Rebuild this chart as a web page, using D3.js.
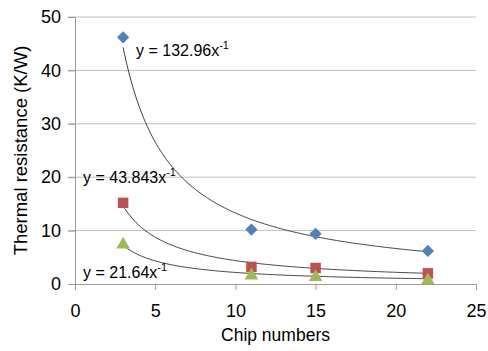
<!DOCTYPE html>
<html>
<head>
<meta charset="utf-8">
<script src="https://cdn.jsdelivr.net/npm/d3@7"></script>
<style>
	body { margin: 0; background: #fff; }
	text { font-family: "Liberation Sans", Arial, sans-serif; fill: #000; }
</style>
</head>
<body>
<svg id="chart" width="488" height="351"></svg>
<script>
// chip counts on the x axis
const chips = [3, 11, 15, 22];

// measured thermal resistance per series (K/W)
const seriesBlue = [46.2, 10.2, 9.4, 6.2];
const seriesRed = [15.2, 3.2, 3.0, 2.0];
const seriesGreen = [7.4, 1.6, 1.3, 0.7];

// power trendline coefficients, y = a * x^-1
const trendCoef = [132.96, 43.843, 21.64];
const trendLabels = ["y = 132.96x", "y = 43.843x", "y = 21.64x"];

const xTicks = [0, 5, 10, 15, 20, 25];
const yTicks = [0, 10, 20, 30, 40, 50];

const svg = d3.select("#chart");
const margin = { left: 75, right: 12, top: 17, bottom: 67 };
const width = +svg.attr("width");
const height = +svg.attr("height");

const x = d3.scaleLinear().domain([0, 25]).range([margin.left, width - margin.right]);
const y = d3.scaleLinear().domain([0, 50]).range([height - margin.bottom, margin.top]);

// Gridlines
svg.append("g")
	.selectAll("line")
	.data(yTicks.slice(1))
	.join("line")
	.attr("x1", x(0) - 7)
	.attr("x2", x(25))
	.attr("y1", (d) => y(d))
	.attr("y2", (d) => y(d))
	.attr("stroke", "#bfbfbf")
	.attr("stroke-width", 1);

// Y axis
const yAxis = svg.append("g")
	.attr("transform", `translate(${x(0)},0)`)
	.call(d3.axisLeft(y).tickValues(yTicks).tickSize(7).tickPadding(7));
yAxis.select(".domain").attr("stroke", "#999");
yAxis.selectAll(".tick line").attr("stroke", "#999");
yAxis.selectAll("text").style("font-size", "18px");

// X axis
const xAxis = svg.append("g")
	.attr("transform", `translate(0,${y(0)})`)
	.call(d3.axisBottom(x).tickValues(xTicks).tickSize(6).tickPadding(14));
xAxis.select(".domain").attr("stroke", "#999");
xAxis.selectAll(".tick line").attr("stroke", "#999");
xAxis.selectAll("text").style("font-size", "18px");

// Axis titles
svg.append("text")
	.attr("x", (x(0) + x(25)) / 2)
	.attr("y", 341)
	.attr("text-anchor", "middle")
	.style("font-size", "17.5px")
	.text("Chip numbers");

svg.append("text")
	.attr("transform", `translate(27,${y(25)}) rotate(-90)`)
	.attr("text-anchor", "middle")
	.style("font-size", "18.5px")
	.text("Thermal resistance (K/W)");

// Trendlines
const line = d3.line().x((d) => x(d[0])).y((d) => y(d[1])).curve(d3.curveMonotoneX);
const xs = d3.range(3, 22.01, 0.1);
svg.append("g")
	.selectAll("path")
	.data(trendCoef)
	.join("path")
	.attr("d", (a) => line(xs.map((v) => [v, a / v])))
	.attr("fill", "none")
	.attr("stroke", "#404040")
	.attr("stroke-width", 1);

// Markers
const series = [
	{ values: seriesBlue, color: "#4f81bd", symbol: d3.symbolDiamond2, size: 95 },
	{ values: seriesRed, color: "#c0504d", symbol: d3.symbolSquare, size: 110 },
	{ values: seriesGreen, color: "#9bbb59", symbol: d3.symbolTriangle, size: 80 },
];
series.forEach((s) => {
	svg.append("g")
		.selectAll("path")
		.data(s.values)
		.join("path")
		.attr("transform", (d, i) => `translate(${x(chips[i])},${y(d)})`)
		.attr("d", d3.symbol().type(s.symbol).size(s.size))
		.attr("fill", s.color);
});

// Equation labels
const labelPos = [[136, 56], [83, 183], [83, 278]];
const eq = svg.append("g")
	.selectAll("text")
	.data(trendLabels)
	.join("text")
	.attr("x", (d, i) => labelPos[i][0])
	.attr("y", (d, i) => labelPos[i][1])
	.style("font-size", "16px");
eq.append("tspan").text((d) => d);
eq.append("tspan")
	.attr("dy", -7)
	.style("font-size", "11px")
	.text("-1");
</script>
</body>
</html>
